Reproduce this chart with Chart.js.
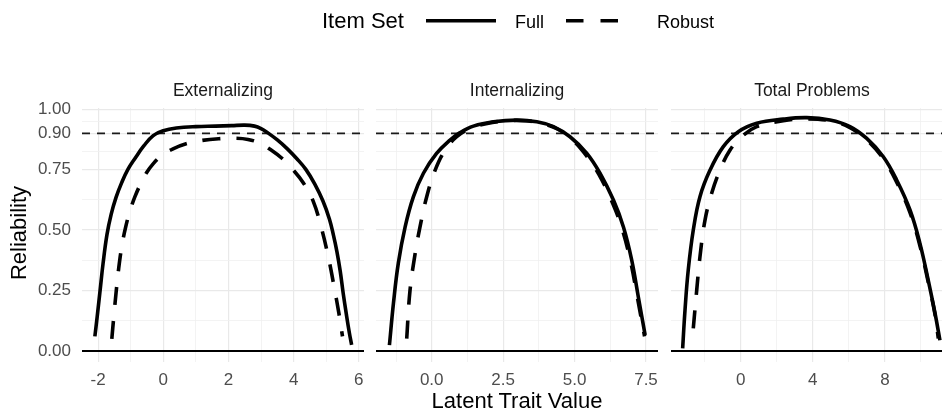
<!DOCTYPE html>
<html>
<head>
<meta charset="utf-8">
<script src="https://cdn.jsdelivr.net/npm/chart.js@4/dist/chart.umd.min.js"></script>
<style>
  html, body { margin: 0; padding: 0; background: #fff; }
  body { width: 942px; height: 411px; overflow: hidden; position: relative; }
  canvas { position: absolute; top: 88px; }
  #labels { position: absolute; left: 0; top: 0; pointer-events: none; }
</style>
</head>
<body>
<canvas id="ext" width="364" height="323" style="left:0px"></canvas>
<canvas id="int" width="282" height="323" style="left:376px"></canvas>
<canvas id="tot" width="282" height="323" style="left:671px"></canvas>

<svg id="labels" width="942" height="411" font-family="'Liberation Sans', Arial, sans-serif">
  <!-- legend -->
  <text x="322" y="28" font-size="22" fill="#000">Item Set</text>
  <line x1="426" x2="496" y1="20.7" y2="20.7" stroke="#000" stroke-width="3.6"/>
  <text x="515" y="27.5" font-size="18" fill="#000">Full</text>
  <line x1="566" x2="619" y1="20.7" y2="20.7" stroke="#000" stroke-width="3.6" stroke-dasharray="17.5 17"/>
  <text x="657" y="27.5" font-size="18" fill="#000">Robust</text>
  <!-- facet strips -->
  <text x="223" y="96" font-size="17.5" fill="#1a1a1a" text-anchor="middle">Externalizing</text>
  <text x="517" y="96" font-size="17.5" fill="#1a1a1a" text-anchor="middle">Internalizing</text>
  <text x="812" y="96" font-size="17.5" fill="#1a1a1a" text-anchor="middle">Total Problems</text>
  <!-- axis titles -->
  <text transform="translate(26,233) rotate(-90)" font-size="22" fill="#000" text-anchor="middle">Reliability</text>
  <text x="517" y="408" font-size="22" fill="#000" text-anchor="middle">Latent Trait Value</text>
</svg>

<script>
// Reliability curves by latent trait value, one facet per scale.
const extFull = [
  [-2.10, 0.06], [-2.03, 0.14], [-1.94, 0.25], [-1.85, 0.36], [-1.73, 0.48],
  [-1.60, 0.565], [-1.45, 0.635], [-1.28, 0.695], [-1.09, 0.75], [-0.85, 0.80],
  [-0.60, 0.848], [-0.31, 0.891], [0.00, 0.911], [0.40, 0.922], [1.00, 0.928],
  [1.60, 0.930], [2.10, 0.932], [2.50, 0.934], [2.80, 0.930], [3.00, 0.920],
  [3.20, 0.903], [3.50, 0.873], [3.80, 0.837], [4.10, 0.795], [4.38, 0.75],
  [4.65, 0.69], [4.90, 0.62], [5.10, 0.545], [5.22, 0.48], [5.33, 0.41],
  [5.43, 0.33], [5.52, 0.24], [5.62, 0.15], [5.71, 0.075], [5.78, 0.025]
];
const extRobust = [
  [-1.58, 0.05], [-1.52, 0.14], [-1.45, 0.24], [-1.37, 0.34], [-1.27, 0.435],
  [-1.15, 0.515], [-1.02, 0.58], [-0.87, 0.638], [-0.70, 0.69], [-0.51, 0.738],
  [-0.30, 0.776], [-0.05, 0.808], [0.30, 0.836], [0.70, 0.857], [1.20, 0.871],
  [1.70, 0.878], [2.20, 0.880], [2.60, 0.875], [2.97, 0.859], [3.30, 0.832],
  [3.65, 0.796], [3.98, 0.75], [4.30, 0.695], [4.60, 0.62], [4.85, 0.51],
  [5.07, 0.385], [5.25, 0.26], [5.39, 0.155], [5.50, 0.06]
];
const intFull = [
  [-1.48, 0.024], [-1.34, 0.196], [-1.17, 0.362], [-0.93, 0.513], [-0.64, 0.638],
  [-0.29, 0.735], [0.17, 0.817], [0.64, 0.872], [0.99, 0.903], [1.46, 0.930],
  [2.16, 0.948], [2.98, 0.955], [3.68, 0.948], [4.26, 0.928], [4.84, 0.886],
  [5.43, 0.817], [5.89, 0.735], [6.36, 0.624], [6.71, 0.513], [7.00, 0.376],
  [7.23, 0.224], [7.47, 0.065]
];
const intRobust = [
  [-0.875, 0.051], [-0.76, 0.25], [-0.58, 0.403], [-0.41, 0.513], [-0.175, 0.638],
  [0.12, 0.748], [0.47, 0.831], [0.875, 0.886], [1.34, 0.92], [1.90, 0.94],
  [2.60, 0.952], [3.30, 0.952], [3.90, 0.94], [4.40, 0.918], [4.90, 0.876],
  [5.40, 0.81], [5.85, 0.73], [6.30, 0.62], [6.65, 0.51], [6.95, 0.375],
  [7.20, 0.22], [7.45, 0.06]
];
const totFull = [
  [-3.22, 0.01], [-3.09, 0.168], [-2.91, 0.334], [-2.63, 0.50], [-2.26, 0.638],
  [-1.70, 0.748], [-0.965, 0.845], [-0.13, 0.907], [0.89, 0.942], [2.36, 0.959],
  [3.66, 0.965], [4.95, 0.955], [6.06, 0.928], [6.99, 0.879], [7.91, 0.803],
  [8.65, 0.707], [9.39, 0.583], [9.94, 0.445], [10.40, 0.293], [10.78, 0.155],
  [11.05, 0.044]
];
const totRobust = [
  [-2.63, 0.093], [-2.44, 0.251], [-2.26, 0.389], [-1.98, 0.541], [-1.61, 0.652],
  [-1.15, 0.748], [-0.59, 0.831], [0.05, 0.886], [0.89, 0.928], [2.36, 0.952],
  [3.66, 0.960], [4.95, 0.952], [6.06, 0.924], [6.99, 0.873], [7.91, 0.795],
  [8.65, 0.698], [9.39, 0.572], [9.94, 0.435], [10.40, 0.285], [10.78, 0.15],
  [10.96, 0.051]
];

// Axis breaks
const yMajor = [0, 0.25, 0.5, 0.75, 0.9, 1];
const yMinor = [0.125, 0.375, 0.625, 0.825, 0.95];
const extXMajor = [-2, 0, 2, 4, 6];
const extXMinor = [-1, 1, 3, 5];
const intXMajor = [0, 2.5, 5, 7.5];
const intXMinor = [-1.25, 1.25, 3.75, 6.25];
const totXMajor = [0, 4, 8];
const totXMinor = [-2, 2, 6, 10];

// Reference lines
const targetReliability = 0.9;
const baseline = 0;

const Y_MIN = -0.046, Y_MAX = 1.005;

Chart.defaults.font.family = "'Liberation Sans', Arial, sans-serif";

function has(list, v) { return list.some(m => Math.abs(m - v) < 1e-9); }
function toPts(arr) { return arr.map(([x, y]) => ({ x, y })); }

function facet(id, cfg) {
  const xTicks = cfg.major.concat(cfg.minor).sort((a, b) => a - b);
  const yTicks = yMajor.concat(yMinor).sort((a, b) => a - b);
  const gridColor = list => ctx => has(list, ctx.tick.value) ? '#e9e9e9' : '#f0f0f0';
  const gridWidth = list => ctx => has(list, ctx.tick.value) ? 1.2 : 0.8;

  new Chart(document.getElementById(id), {
    type: 'line',
    data: {
      datasets: [
        { label: 'Full', data: toPts(cfg.full), borderColor: '#000', borderWidth: 3.6,
          tension: 0.4, order: 2 },
        { label: 'Robust', data: toPts(cfg.robust), borderColor: '#000', borderWidth: 3.6,
          tension: 0.4, borderDash: [18, 16], order: 1 },
        { data: [{ x: cfg.xMin, y: targetReliability }, { x: cfg.xMax, y: targetReliability }],
          borderColor: '#1a1a1a', borderWidth: 1.9, borderDash: [8, 7], order: 3 },
        { data: [{ x: cfg.xMin, y: baseline }, { x: cfg.xMax, y: baseline }],
          borderColor: '#000', borderWidth: 2, order: 3 }
      ]
    },
    options: {
      responsive: false,
      animation: false,
      events: [],
      layout: { padding: { top: 20, left: 0, right: 0, bottom: 0 } },
      elements: {
        point: { radius: 0 },
        line: { borderCapStyle: 'butt', fill: false }
      },
      plugins: { legend: { display: false }, tooltip: { enabled: false } },
      scales: {
        x: {
          type: 'linear', min: cfg.xMin, max: cfg.xMax,
          border: { display: false },
          grid: { drawTicks: false, color: gridColor(cfg.major), lineWidth: gridWidth(cfg.major) },
          ticks: {
            autoSkip: false, maxRotation: 0, padding: 8, color: '#4d4d4d', font: { size: 17 },
            callback: v => has(cfg.major, v) ? cfg.fmt(v) : ''
          },
          afterBuildTicks: s => { s.ticks = xTicks.map(v => ({ value: v })); },
          afterFit: s => { s.height = 49; s.paddingLeft = 0; s.paddingRight = 0; }
        },
        y: {
          type: 'linear', min: Y_MIN, max: Y_MAX,
          border: { display: false },
          grid: { drawTicks: false, color: gridColor(yMajor), lineWidth: gridWidth(yMajor) },
          ticks: {
            display: cfg.showY, autoSkip: false, padding: 11, color: '#4d4d4d', font: { size: 17 },
            callback: v => has(yMajor, v) ? v.toFixed(2) : ''
          },
          afterBuildTicks: s => { s.ticks = yTicks.map(v => ({ value: v })); },
          afterFit: s => { s.width = cfg.showY ? 82 : 0; s.paddingTop = 0; s.paddingBottom = 0; }
        }
      }
    }
  });
}

facet('ext', { full: extFull, robust: extRobust, xMin: -2.495, xMax: 6.16,
  major: extXMajor, minor: extXMinor, fmt: v => String(v), showY: true });
facet('int', { full: intFull, robust: intRobust, xMin: -1.95, xMax: 7.92,
  major: intXMajor, minor: intXMinor, fmt: v => v.toFixed(1), showY: false });
facet('tot', { full: totFull, robust: totRobust, xMin: -3.866, xMax: 11.775,
  major: totXMajor, minor: totXMinor, fmt: v => String(v), showY: false });
</script>
</body>
</html>
